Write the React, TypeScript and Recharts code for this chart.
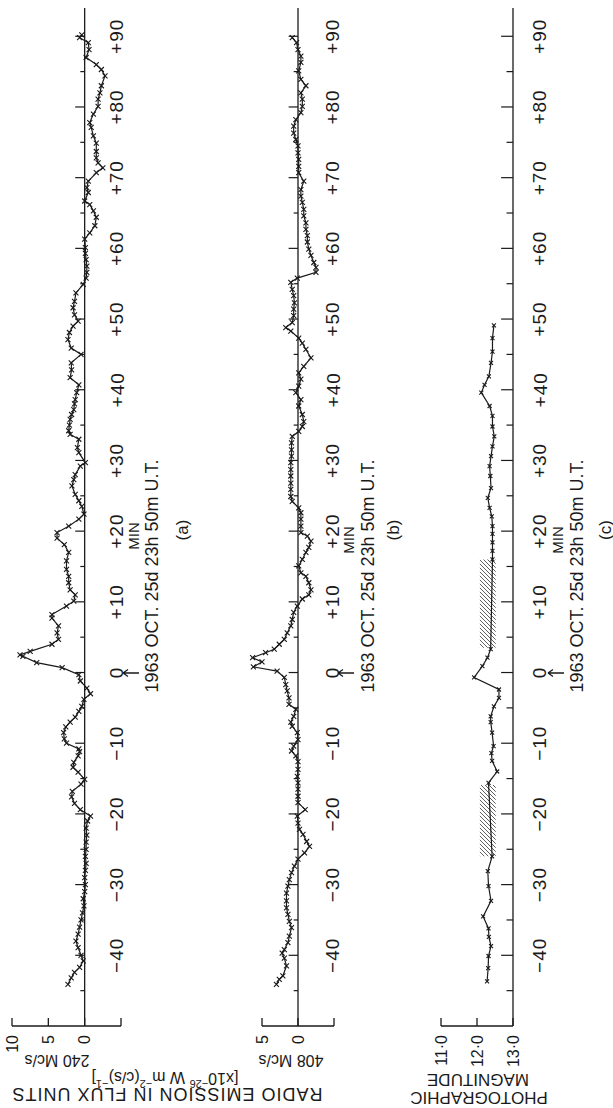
import { LineChart, Line, XAxis, YAxis, ReferenceLine, ReferenceArea } from "recharts";

const FONT = "'Liberation Sans', Arial, Helvetica, sans-serif";
const INK = "#1a1a1a";

// minutes from 1963 Oct 25d 23h 50m U.T.
const timeDomain = [-50, 94];
const timeTicks = [-40, -30, -20, -10, 0, 10, 20, 30, 40, 50, 60, 70, 80, 90];
const timeMarks = [-45, -40, -35, -30, -25, -20, -15, -10, -5, 0, 5, 10, 15, 20, 25, 30, 35, 40, 45, 50, 55, 60, 65, 70, 75, 80, 85, 90];

const ticks240 = [-5, 0, 5, 10];
const ticks408 = [-5, 0, 5];
const ticksMag = [11, 12, 13];

// (a) 240 Mc/s, flux units
const t240 = [
  -44.1, -43.2, -42.4, -41.7, -40.8, -40, -38.9, -38, -37, -36, -35, -34, -33, -32, -31, -30, -29, -28, -27, -26,
  -25, -24, -23, -22, -21, -20.3, -19.4, -18.5, -17.6, -16.8, -15.8, -15.1, -14.1, -13.4, -12.7, -11.8, -11.2, -10.8,
  -10, -9.4, -8.5, -7.7, -7, -6.3, -5.5, -4.8, -3.8, -3, -2.2, -1.2, -0.3, 0.7, 1.4, 2.3, 2.5, 3, 4, 4.7, 5.6, 6.6,
  7.7, 8.2, 9.4, 10.1, 11, 11.7, 12.7, 13.6, 14.6, 15.8, 17, 18.1, 19, 19.8, 20.7, 21.7, 22.4, 23.5, 24.3, 25.2, 26.4,
  27.3, 28, 29.2, 29.7, 31.1, 31.8, 33, 33.7, 34.2, 35, 35.8, 36.5, 37.2, 38, 38.6, 39.6, 40.7, 41.7, 42.8, 43.8, 45,
  45.9, 47.1, 48.1, 49, 49.7, 50.6, 51.6, 52.5, 53.7, 54.9, 55.8, 56.6, 57.5, 58.4, 59.3, 60.1, 61.3, 62.2, 63.2, 64.4,
  65.3, 66.2, 66.7, 67.9, 68.6, 69.5, 70.7, 71.4, 72.1, 72.8, 73.7, 74.9, 75.9, 77.1, 77.8, 79, 80.1, 81.1, 82, 83,
  84.4, 85.3, 86, 87, 88.1, 89.1, 89.8, 90.2,
];
const f240 = [
  2.3, 1.85, 1.4, 0.7, 0.2, 0.5, 0.9, 1.2, 0.9, 0.7, 0.5, 0.3, 0.1, 0.2, 0, -0.1, 0, -0.1, -0.2, -0.1,
  -0.2, -0.2, -0.3, -0.2, -0.4, -0.8, 0.6, 1.4, 1.8, 1.7, 0.5, 0, 0.9, 1.6, 1.5, 0.9, 0.7, 0.8,
  2.5, 2.8, 2.9, 2.6, 2, 1.3, 0.8, 0.4, 0.1, -0.8, -0.3, 0.6, 0.8, 3.1, 6.6, 8.5, 8.9, 7.5, 4.5, 3.6, 3.8, 3.6,
  4.5, 4.5, 2.5, 1.5, 1.3, 2, 2.2, 2.2, 2.5, 2.5, 2.2, 2.8, 3.8, 3.8, 2.2, 0.8, 0.1, 0.4, 0.8, 1.3, 1.75,
  1.5, 1.3, 0.6, -0.1, 0.8, 1, 0.8, 2, 2.2, 2.1, 2, 1.8, 1.5, 1.4, 1.3, 1.1, 0.8, 2, 1.8, 1.85, 0.5,
  1.85, 2.3, 2.1, 1.6, 0.9, 1.4, 1.6, 1.4, 1.2, 0.2, -0.2, -0.3, -0.3, -0.2, -0.1, -0.1, 0, -0.7, -1.4, -1.6,
  -1.2, -0.7, 0, -0.5, -0.3, -0.5, -1.6, -2.5, -1.85, -1.6, -1.6, -1.6, -1.2, -0.9, -0.7, -1.2, -1.85, -1.85, -2.1, -2.3,
  -2.8, -2.3, -1.6, -0.2, -0.6, -0.5, 0.7, 0.4,
];

// (b) 408 Mc/s, flux units
const t408 = [
  -44.1, -43.4, -42.9, -41.5, -40.4, -39.7, -39.2, -38.2, -37.3, -36.1, -35.2, -34.2, -33.3, -32.3, -31.2, -30.2,
  -29.3, -28.3, -27.4, -26.4, -25.5, -24.6, -23.9, -22.9, -22.2, -21.3, -20.3, -19.4, -18.4, -17.5, -16.5, -15.6,
  -14.7, -13.7, -12.6, -11.8, -11.1, -10.4, -9.5, -8.5, -7.6, -7, -6.2, -5.2, -4.5, -3.6, -2.6, -1.7, -0.7, 0.2, 0.8,
  1.5, 2.1, 2.8, 3.3, 4, 4.7, 5.6, 6.6, 7.5, 8.5, 9.4, 10.4, 11, 11.7, 12.7, 13.6, 14.1, 15.1, 16, 17, 17.7, 18.6,
  19.3, 19.8, 20.7, 21.7, 22.6, 23.3, 24.2, 24.9, 25.9, 26.8, 27.8, 28.7, 29.7, 30.6, 31.5, 32.5, 33.4, 34.1, 34.8,
  35.5, 36.5, 37.7, 38.6, 39.6, 40.5, 41.5, 42.4, 43.3, 44.5, 45.7, 46.6, 47.3, 48.3, 48.8, 49.5, 50.5, 51.4, 52.3,
  53.3, 54.2, 55.2, 55.8, 56.6, 57.3, 58, 59, 59.9, 60.9, 61.8, 62.7, 63.6, 64.6, 65.5, 66.5, 67.4, 68.3, 69.5, 70.7,
  71.6, 72.6, 73.5, 74.5, 75.4, 76.3, 77.3, 78.2, 79.2, 80.1, 81.1, 82, 83, 83.9, 85.1, 86.3, 87.2, 88.1, 89.1, 89.8,
];
const f408 = [
  3, 2.6, 2.1, 1.6, 1.9, 2.2, 1.9, 1.4, 1.2, 0.9, 1.2, 1.4, 1.6, 1.6, 1.6, 1.4,
  1.2, 0.9, 0.5, 0, -0.9, -1.6, -1.2, -0.7, -0.2, 0, 0.1, -1, 0, 0, 0, 0,
  0.1, 0, 0, 0.3, 0.9, 0.6, 0, 0.1, 0.8, 1, 0.6, 0.3, 1.25, 1.25, 1.5, 1.7, 1.9, 2.9, 6.2,
  5, 6.3, 4.5, 3.3, 2.6, 1.9, 1.5, 1, 0.8, 0.6, 0.1, -0.6, -1.5, -1.8, -1.5, -1.1, -0.4, -0.1, -0.6, -1.1, -1.5, -1.8,
  -1.3, -0.4, -0.4, -0.4, -0.4, -0.1, 0.8, 1, 1, 1, 1, 1, 1, 0.9, 0.9, 0.9, 0.8, -0.1, -0.6,
  -0.8, -0.6, -0.1, -0.4, 0.3, -0.1, -0.4, -0.1, -0.8, -1.8, -1.1, -0.6, -0.1, 1, 1.7, 0.8, 0.6, 0.6, 0.5,
  0.6, 0.8, 1, 0.1, -2.5, -2.5, -2.2, -1.8, -1.5, -1.3, -1.3, -1.1, -1.1, -0.8, -0.8, -0.6, -0.4, -0.4, -0.8, -0.1,
  -0.1, -0.1, 0, 0, 0.3, 0.6, 0.6, 0.3, -0.4, -0.6, -0.6, -0.4, -1.1, -0.4, -0.1, -0.4, -0.4, 0, 0.2, 0.8,
];

// (c) photographic magnitude; null = no observation (hatched)
const tMag = [
  -43.7, -41.8, -40.1, -38.7, -37.4, -36.2, -34.5, -32.3, -30.2, -28.1, -26, -21, -15.6, -14, -12.5, -11.4, -10.4,
  -8.5, -7, -6.2, -4.8, -3.6, -2.4, -0.7, 0.9, 2.1, 3.3, 10, 16, 17.2, 18.4, 19.6, 20.7, 22.1, 23.3, 24.7, 26.1,
  27.8, 29.2, 30.6, 32, 33.4, 34.8, 36.3, 37.7, 39.6, 40.7, 41.9, 43.8, 45.4, 47.3, 49.1,
];
const mag = [
  12.28, 12.31, 12.32, 12.39, 12.33, 12.32, 12.17, 12.39, 12.32, 12.3, 12.42, null, 12.32, 12.56, 12.42, 12.4, 12.46,
  12.42, 12.38, 12.38, 12.47, 12.61, 12.61, 11.92, 12.15, 12.29, 12.38, null, 12.43, 12.43, 12.43, 12.43, 12.43, 12.41, 12.35, 12.3, 12.39,
  12.37, 12.35, 12.39, 12.43, 12.48, 12.43, 12.43, 12.35, 12.12, 12.21, 12.33, 12.39, 12.43, 12.43, 12.47,
];
const magGaps = [
  [-26, -15.9],
  [3.5, 16],
];
const magGapRange = [12.08, 12.52];

const data240 = t240.map((t, i) => ({ t, v: f240[i] }));
const data408 = t408.map((t, i) => ({ t, v: f408[i] }));
const dataMag = tMag.map((t, i) => ({ t, v: mag[i] }));

const fmtTime = (v: number) => (v > 0 ? `+${v}` : v < 0 ? `\u2212${Math.abs(v)}` : "0");

const crossDot = (s: number) => (props: any) => {
  const { cx, cy, index, payload } = props;
  if (cx == null || cy == null || payload == null || payload.v == null) return <g key={`d${index}`} />;
  return (
    <path
      key={`d${index}`}
      d={`M${cx - s},${cy - s}L${cx + s},${cy + s}M${cx - s},${cy + s}L${cx + s},${cy - s}`}
      stroke={INK}
      strokeWidth={1.1}
      fill="none"
    />
  );
};

const timeTick = (dx: number) => (props: any) => {
  const { x, y, payload } = props;
  const tx = x + dx;
  return (
    <text
      x={tx}
      y={y}
      transform={`rotate(-90 ${tx} ${y})`}
      textAnchor="middle"
      dominantBaseline="central"
      fontSize={19}
      letterSpacing={1}
      fontFamily={FONT}
      fill={INK}
    >
      {fmtTime(payload.value)}
    </text>
  );
};

const valueTick = (labels: Record<string, string>) => (props: any) => {
  const { x, y, payload } = props;
  const label = labels[String(payload.value)];
  return (
    <g>
      <line x1={x} y1={y} x2={x} y2={y - 8} stroke={INK} strokeWidth={1.3} />
      {label ? (
        <text
          x={x}
          y={y + 9}
          transform={`rotate(-90 ${x} ${y + 9})`}
          textAnchor="end"
          dominantBaseline="central"
          fontSize={16}
          fontFamily={FONT}
          fill={INK}
        >
          {label}
        </text>
      ) : null}
    </g>
  );
};

const Rot = ({ x, y, angle, size, children, spacing = 0 }: any) => (
  <text
    x={x}
    y={y}
    transform={`rotate(${angle} ${x} ${y})`}
    textAnchor="middle"
    dominantBaseline="central"
    fontSize={size}
    letterSpacing={spacing}
    fontFamily={FONT}
    fill={INK}
  >
    {children}
  </text>
);

function Panel({
  left,
  width,
  margin,
  data,
  domain,
  axisSpan,
  reversed,
  ticks,
  tickLabels,
  zero,
  major,
  minor,
  labelDx,
  dotSize,
  extra,
}: any) {
  return (
    <div style={{ position: "absolute", left, top: 0, width, height: 1108 }}>
      <LineChart layout="vertical" width={width} height={1108} data={data} margin={margin}>
        <defs>
          <pattern id="hatch" width="4" height="4" patternUnits="userSpaceOnUse">
            <path d="M0,0 L4,4 M-1,3 L1,5 M3,-1 L5,1" stroke={INK} strokeWidth={0.7} />
          </pattern>
        </defs>
        <XAxis
          type="number"
          domain={domain}
          reversed={reversed}
          ticks={ticks}
          allowDataOverflow
          height={30}
          tickSize={0}
          tickMargin={0}
          axisLine={false}
          tickLine={false}
          tick={valueTick(tickLabels)}
          interval={0}
        />
        <YAxis
          type="number"
          dataKey="t"
          orientation="right"
          domain={timeDomain}
          reversed
          ticks={timeTicks}
          allowDataOverflow
          width={30}
          tickSize={0}
          tickMargin={0}
          axisLine={false}
          tickLine={false}
          tick={timeTick(labelDx)}
          interval={0}
        />
        {extra}
        {/* value axis along the bottom, only over its labelled span */}
        <ReferenceLine
          segment={[
            { x: axisSpan[0], y: timeDomain[0] },
            { x: axisSpan[1], y: timeDomain[0] },
          ]}
          stroke={INK}
          strokeWidth={1.3}
          ifOverflow="visible"
        />
        <ReferenceLine x={zero} stroke={INK} strokeWidth={1.3} />
        {timeMarks.map((m) => (
          <ReferenceLine
            key={`m${m}`}
            segment={[
              { x: zero, y: m },
              { x: zero + (m % 10 === 0 ? major : minor), y: m },
            ]}
            stroke={INK}
            strokeWidth={1.2}
          />
        ))}
        <Line
          type="linear"
          dataKey="v"
          stroke={INK}
          strokeWidth={1.2}
          dot={crossDot(dotSize)}
          connectNulls={false}
          isAnimationActive={false}
        />
      </LineChart>
    </div>
  );
}

export default function App() {
  return (
    <div style={{ position: "absolute", left: 0, top: 0, width: 613, height: 1108, background: "#fff", overflow: "hidden" }}>
      <Panel
        left={0}
        width={200}
        margin={{ top: 8, right: 49, bottom: 52, left: 12 }}
        data={data240}
        domain={[-5, 10]}
        axisSpan={[-5, 10]}
        reversed
        ticks={ticks240}
        tickLabels={{ "10": "10", "5": "5", "0": "0" }}
        zero={0}
        major={1.3}
        minor={0.6}
        labelDx={-4}
        dotSize={2.5}
      />
      <Panel
        left={200}
        width={200}
        margin={{ top: 8, right: 36, bottom: 52, left: 47.6 }}
        data={data408}
        domain={[-5, 7]}
        axisSpan={[-5, 5]}
        reversed
        ticks={ticks408}
        tickLabels={{ "5": "5", "0": "0" }}
        zero={0}
        major={1.3}
        minor={0.6}
        labelDx={-1}
        dotSize={2.5}
      />
      <Panel
        left={400}
        width={213}
        margin={{ top: 8, right: 70, bottom: 52, left: 41 }}
        data={dataMag}
        domain={[11, 13]}
        axisSpan={[11, 13]}
        reversed={false}
        ticks={ticksMag}
        tickLabels={{ "11": "11\u00b70", "12": "12\u00b70", "13": "13\u00b70" }}
        zero={13}
        major={-0.33}
        minor={-0.18}
        labelDx={27}
        dotSize={2}
        extra={magGaps.map(([a, b]) => (
          <ReferenceArea
            key={`g${a}`}
            x1={magGapRange[0]}
            x2={magGapRange[1]}
            y1={a}
            y2={b}
            fill="url(#hatch)"
            fillOpacity={1}
            stroke="none"
          />
        ))}
      />
      <svg width={613} height={1108} style={{ position: "absolute", left: 0, top: 0, pointerEvents: "none" }}>
        {/* panel captions */}
        <Rot x={133} y={536} angle={-90} size={15}>MIN</Rot>
        <Rot x={152} y={576} angle={-90} size={18}>1963 OCT. 25d 23h 50m U.T.</Rot>
        <Rot x={182} y={530} angle={-90} size={17}>(a)</Rot>
        <path d="M123,673 H139 M123,673 l5,-3.5 M123,673 l5,3.5" stroke={INK} strokeWidth={1.3} fill="none" />

        <Rot x={348} y={540} angle={-90} size={15}>MIN</Rot>
        <Rot x={368} y={576} angle={-90} size={18}>1963 OCT. 25d 23h 50m U.T.</Rot>
        <Rot x={393} y={530} angle={-90} size={17}>(b)</Rot>
        <path d="M338,673 H354 M338,673 l5,-3.5 M338,673 l5,3.5" stroke={INK} strokeWidth={1.3} fill="none" />

        <Rot x={557} y={540} angle={-90} size={15}>MIN</Rot>
        <Rot x={577} y={576} angle={-90} size={18}>1963 OCT. 25d 23h 50m U.T.</Rot>
        <Rot x={605} y={530} angle={-90} size={17}>(c)</Rot>
        <path d="M548,673 H564 M548,673 l5,-3.5 M548,673 l5,3.5" stroke={INK} strokeWidth={1.3} fill="none" />

        {/* axis titles */}
        <Rot x={57} y={1060} angle={180} size={16}>240 Mc/s</Rot>
        <Rot x={291} y={1060} angle={180} size={16}>408 Mc/s</Rot>
        <text
          x={165}
          y={1078}
          transform="rotate(180 165 1078)"
          textAnchor="middle"
          dominantBaseline="central"
          fontSize={16}
          fontFamily={FONT}
          fill={INK}
        >
          [x10<tspan dy={-6} fontSize={11}>−26</tspan>
          <tspan dy={6}> W m</tspan>
          <tspan dy={-6} fontSize={11}>−2</tspan>
          <tspan dy={6}>(c/s)</tspan>
          <tspan dy={-6} fontSize={11}>−1</tspan>
          <tspan dy={6}>]</tspan>
        </text>
        <Rot x={167} y={1094} angle={180} size={18} spacing={1}>RADIO EMISSION IN FLUX UNITS</Rot>
        <Rot x={478} y={1079} angle={180} size={17}>MAGNITUDE</Rot>
        <Rot x={479} y={1097} angle={180} size={17}>PHOTOGRAPHIC</Rot>
      </svg>
    </div>
  );
}
